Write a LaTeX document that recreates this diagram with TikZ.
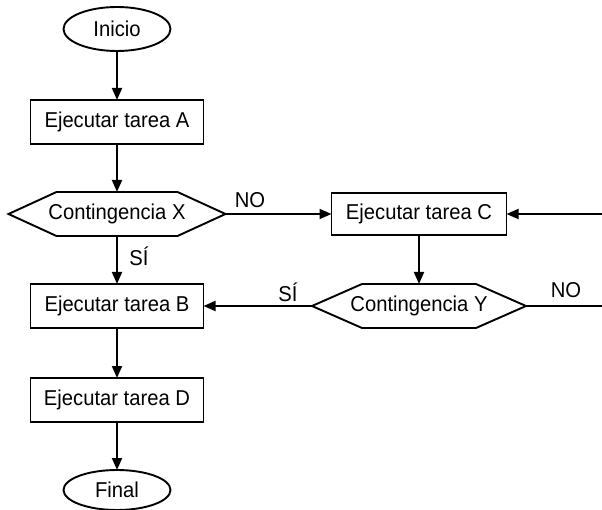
\documentclass[tikz,border=0pt]{standalone}
\usepackage{fontspec}
\setmainfont[FakeStretch=0.94]{Liberation Sans}
\usetikzlibrary{arrows.meta,calc,shapes.geometric}
\begin{document}
\begin{tikzpicture}[x=1pt,y=-1pt,
  every node/.style={font=\fontsize{21.5}{25}\selectfont, inner sep=0pt, outer sep=0pt},
  flow/.style={line width=1.9pt, line join=miter},
  arrow/.style={flow,-{Triangle[length=12pt,width=10pt]}},
  terminal/.style={ellipse, draw, line width=1.9pt, minimum width=107pt, minimum height=44pt},
  taskbox/.style={rectangle, draw, line width=1.9pt, minimum width=173pt, minimum height=44pt},
  hexcore/.style={rectangle, minimum height=44pt},
  tag/.style={font=\fontsize{21.5}{25}\selectfont}
]
\useasboundingbox[fill=white] (0,0) rectangle (602,510);

% main column
\node[terminal] (ini) at (117,29) {Inicio};
\node[taskbox] (ta) at (117,122) {Ejecutar tarea A};
\node[hexcore, minimum width=217pt] (cx) at (117,214) {Contingencia X};
\node[taskbox] (tb) at (117,306) {Ejecutar tarea B};
\node[taskbox] (td) at (117,400) {Ejecutar tarea D};
\node[terminal, minimum height=40pt] (fin) at (117,490) {Final};

% right branch
\node[taskbox, minimum width=175pt, minimum height=42pt] (tc) at (419,214) {Ejecutar tarea C};
\node[hexcore, minimum width=214pt] (cy) at (419,306) {Contingencia Y};

% hexagonal decision outlines
\foreach \h/\c in {cx/48, cy/50}{
  \draw[flow] (\h.west) -- ($(\h.north west)+(\c,0)$) -- ($(\h.north east)+(-\c,0)$)
    -- (\h.east) -- ($(\h.south east)+(-\c,0)$) -- ($(\h.south west)+(\c,0)$) -- cycle;
}

% loose ends at the right margin
\coordinate (inC) at (602,214);
\coordinate (outY) at (602,306);

% connectors
\draw[arrow] (ini) -- (ta);
\draw[arrow] (ta) -- (cx.north);
\draw[arrow] (cx.south) -- (tb);
\draw[arrow] (tb) -- (td);
\draw[arrow] (td) -- (fin);
\draw[arrow] (cx.east) -- (tc.west);
\draw[arrow] (inC) -- (tc.east);
\draw[arrow] (tc) -- (cy.north);
\draw[arrow] (cy.west) -- (tb.east);
\draw[flow] (cy.east) -- (outY);

% branch labels
\node[tag] (nox) at (250,200) {NO};
\node[tag] (six) at (139,256) {SÍ};
\node[tag] (siy) at (288,292) {SÍ};
\node[tag] (noy) at (566,290) {NO};
\end{tikzpicture}
\end{document}
